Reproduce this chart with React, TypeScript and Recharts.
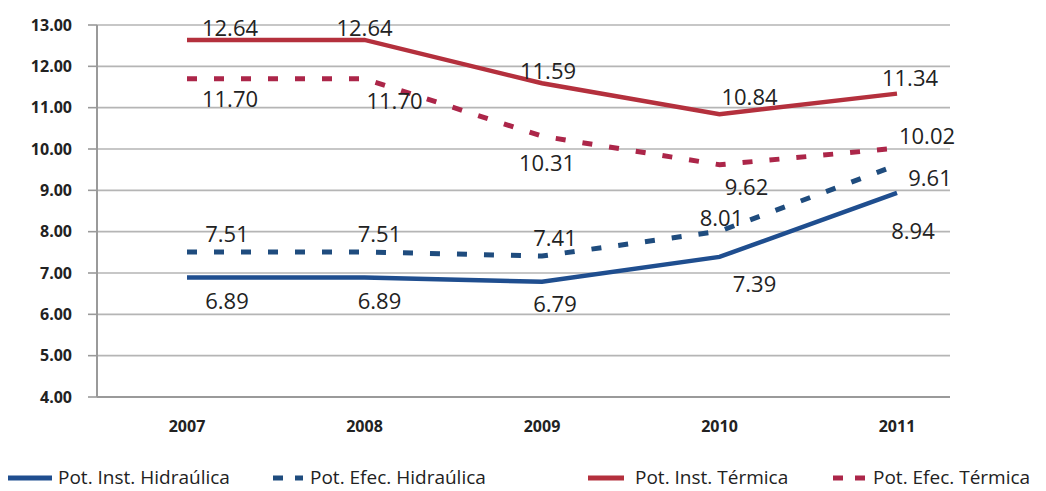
import React from 'react';
import { LineChart, Line, XAxis, YAxis, CartesianGrid, Legend, LabelList } from 'recharts';

const years = ['2007', '2008', '2009', '2010', '2011'];
const instHidraulica = [6.89, 6.89, 6.79, 7.39, 8.94];
const efecHidraulica = [7.51, 7.51, 7.41, 8.01, 9.61];
const instTermica = [12.64, 12.64, 11.59, 10.84, 11.34];
const efecTermica = [11.7, 11.7, 10.31, 9.62, 10.02];
const yTicks = [4, 5, 6, 7, 8, 9, 10, 11, 12, 13];
const seriesNames = [
  'Pot. Inst. Hidraúlica',
  'Pot. Efec. Hidraúlica',
  'Pot. Inst. Térmica',
  'Pot. Efec. Térmica',
];

const data = years.map((year, i) => ({
  year,
  ih: instHidraulica[i],
  eh: efecHidraulica[i],
  it: instTermica[i],
  et: efecTermica[i],
}));

const FONT = '"Open Sans", "DejaVu Sans", sans-serif';
const BLUE = '#1F4E8F';
const BLUE_D = '#1F4C7E';
const RED = '#B4303D';
const RED_D = '#AC2649';

// label offsets (dx, dy) from each point, per series
const offIH = [[40, 22], [15, 22], [13, 21], [35, 26], [16, 37]];
const offEH = [[40, -19], [15, -19], [13, -19], [2, -14], [33, 12]];
const offIT = [[43, -13], [0, -13], [6, -13], [30, -18], [13, -17]];
const offET = [[43, 19], [30, 21], [5, 26], [27, 21], [30, -13]];

const makeLabel = (offs: number[][]) => (props: any) => {
  const { x, y, value, index } = props;
  const [dx, dy] = offs[index] || [0, 0];
  return (
    <text
      x={x + dx}
      y={y + dy}
      textAnchor="middle"
      dominantBaseline="central"
      fontSize={22}
      fontFamily={FONT}
      fill="#222"
    >
      {Number(value).toFixed(2)}
    </text>
  );
};

const legendItems = [
  { name: seriesNames[0], color: BLUE, dashed: false, x: 8, w: 44, tx: 58 },
  { name: seriesNames[1], color: BLUE_D, dashed: true, x: 273, w: 30, tx: 310 },
  { name: seriesNames[2], color: RED, dashed: false, x: 588, w: 36, tx: 635 },
  { name: seriesNames[3], color: RED_D, dashed: true, x: 833, w: 34, tx: 873 },
];

const renderLegend = () => (
  <svg width={1046} height={24} style={{ display: 'block', overflow: 'visible' }}>
    {legendItems.map((it) => (
      <g key={it.name}>
        <line
          x1={it.x}
          x2={it.x + it.w}
          y1={13}
          y2={13}
          stroke={it.color}
          strokeWidth={5}
          strokeDasharray={it.dashed ? '10 12' : undefined}
        />
        <text
          x={it.tx}
          y={12}
          dominantBaseline="central"
          fontSize={19}
          fontFamily={FONT}
          fill="#222"
        >
          {it.name}
        </text>
      </g>
    ))}
  </svg>
);

export default function App() {
  return (
    <div style={{ position: 'absolute', left: 0, top: 0, width: 1046, height: 491, background: '#fff', overflow: 'hidden' }}>
      <LineChart width={1046} height={491} data={data} margin={{ top: 25, right: 96, bottom: 34, left: 0 }}>
        <CartesianGrid vertical={false} stroke="#b5b5b5" strokeWidth={1.6} />
        <XAxis
          dataKey="year"
          height={60}
          padding={{ left: 90, right: 53 }}
          axisLine={{ stroke: '#9a9a9a', strokeWidth: 2 }}
          tickLine={false}
          tickSize={0}
          tickMargin={24}
          tick={{ fontSize: 16, fontWeight: 700, fill: '#222', fontFamily: FONT }}
        />
        <YAxis
          width={97}
          domain={[4, 13]}
          ticks={yTicks}
          interval={0}
          tickFormatter={(v: number) => v.toFixed(2)}
          axisLine={{ stroke: '#9a9a9a', strokeWidth: 2 }}
          tickLine={{ stroke: '#9a9a9a', strokeWidth: 1.6 }}
          tickSize={9}
          tickMargin={16}
          tick={{ fontSize: 16, fontWeight: 700, fill: '#222', fontFamily: FONT }}
        />
        <Legend
          layout="horizontal"
          verticalAlign="middle"
          align="center"
          wrapperStyle={{ top: 465, left: 0, width: 1046, height: 24 }}
          content={renderLegend}
        />
        <Line dataKey="ih" name={seriesNames[0]} stroke={BLUE} strokeWidth={4.5} dot={false} isAnimationActive={false}>
          <LabelList dataKey="ih" content={makeLabel(offIH)} />
        </Line>
        <Line dataKey="eh" name={seriesNames[1]} stroke={BLUE_D} strokeWidth={5} strokeDasharray="10 17" dot={false} isAnimationActive={false}>
          <LabelList dataKey="eh" content={makeLabel(offEH)} />
        </Line>
        <Line dataKey="it" name={seriesNames[2]} stroke={RED} strokeWidth={4.5} dot={false} isAnimationActive={false}>
          <LabelList dataKey="it" content={makeLabel(offIT)} />
        </Line>
        <Line dataKey="et" name={seriesNames[3]} stroke={RED_D} strokeWidth={5} strokeDasharray="10 17" dot={false} isAnimationActive={false}>
          <LabelList dataKey="et" content={makeLabel(offET)} />
        </Line>
      </LineChart>
    </div>
  );
}
